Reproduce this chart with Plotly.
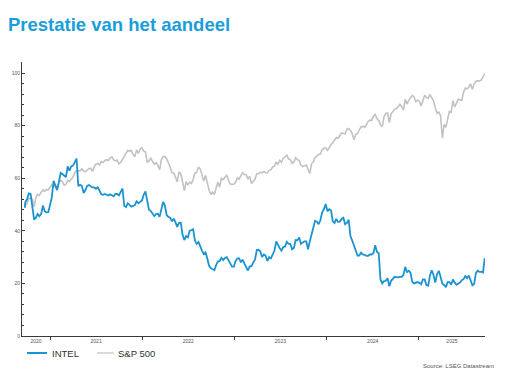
import pandas as pd
import plotly.graph_objects as go

# Weekly values (Intel in USD, S&P 500 rebased to Intel's start)
intel = [
    # 2020 (from late September)
    48.8, 50.9, 52.0, 54.2, 54.0, 48.6, 44.3, 45.0, 46.4, 45.5, 46.4, 49.6, 47.4, 47.0, 47.1, 49.8,
    # 2021
    52.7, 59.0, 57.5, 55.5, 58.5, 62.0, 61.6, 60.8, 60.4, 64.5, 62.9, 64.5, 64.8, 66.0, 67.5, 57.0,
    57.5, 57.1, 54.4, 55.5, 57.1, 57.4, 56.8, 56.5, 56.5, 56.0, 56.6, 55.3, 53.9, 53.7, 54.0, 53.7,
    53.4, 53.9, 53.4, 53.1, 54.0, 54.0, 53.5, 54.9, 56.1, 49.5, 49.0, 50.5, 49.8, 49.2, 49.5, 49.8,
    51.2, 50.5, 51.0, 51.5,
    # 2022
    53.7, 55.0, 51.5, 48.0, 47.5, 46.5, 45.6, 46.4, 46.5, 45.3, 48.5, 51.0, 49.6, 46.0, 45.3, 45.0,
    43.6, 44.6, 43.2, 41.5, 43.0, 43.1, 38.5, 36.5, 38.0, 37.5, 40.0, 40.2, 40.6, 36.3, 35.0, 35.8,
    34.0, 32.5, 31.2, 31.8, 29.5, 26.7, 25.8, 25.5, 25.0, 27.0, 28.4, 28.5, 29.7, 28.9, 29.7, 30.0,
    28.7, 27.7, 26.4, 26.4,
    # 2023
    28.5, 29.5, 29.5, 28.0, 29.0, 27.5, 26.0, 24.9, 26.5, 26.5, 28.0, 29.0, 32.7, 32.8, 32.2, 30.0,
    31.0, 30.5, 28.5, 30.0, 29.5, 31.0, 32.5, 36.0, 34.5, 33.4, 32.5, 33.8, 34.0, 35.8, 35.0, 35.0,
    33.0, 33.5, 36.5, 36.4, 37.5, 35.0, 35.6, 36.0, 36.0, 33.0, 36.0, 38.5, 40.5, 43.8, 43.5, 42.5,
    44.0, 47.0, 48.2, 50.2,
    # 2024
    47.4, 48.2, 47.8, 43.6, 43.0, 44.5, 43.4, 43.5, 44.5, 45.0, 42.5, 43.0, 44.2, 38.0, 36.3, 34.2,
    31.9, 30.6, 30.6, 31.7, 31.0, 30.9, 30.5, 30.5, 31.0, 31.0, 31.5, 34.5, 32.0, 31.5, 21.5, 20.0,
    20.9, 21.0, 22.0, 18.9, 21.0, 21.8, 22.5, 22.4, 22.3, 22.5, 22.5, 23.2, 26.3, 24.3, 24.8, 24.0,
    20.6, 20.0, 20.3, 20.5,
    # 2025 (to mid-September)
    20.2, 19.7, 21.5, 21.5, 19.4, 19.1, 23.0, 25.0, 23.2, 20.3, 23.5, 24.8, 22.5, 19.9, 19.4, 18.6,
    20.5, 20.5, 19.5, 21.5, 20.3, 19.5, 20.0, 20.3, 21.2, 21.6, 22.8, 22.0, 23.0, 20.7, 19.3, 19.8,
    23.9, 24.8, 24.4, 24.5, 24.1, 29.6,
]

sp500 = [
    # 2020
    48.7, 49.6, 50.3, 52.3, 52.4, 52.1, 49.1, 52.7, 53.9, 53.5, 54.7, 55.6, 55.0, 55.7, 55.6, 56.4,
    # 2021
    57.5, 56.6, 57.7, 55.8, 58.4, 59.1, 58.7, 57.3, 57.7, 59.2, 58.8, 59.7, 60.4, 62.0, 62.9, 62.8,
    62.8, 63.6, 62.7, 62.4, 63.2, 63.6, 63.8, 62.6, 64.3, 65.4, 65.6, 65.0, 66.3, 66.0, 66.7, 67.1,
    66.7, 67.7, 68.1, 67.0, 66.6, 66.9, 65.5, 66.0, 67.2, 68.3, 69.2, 70.6, 70.3, 70.6, 69.0, 68.2,
    70.8, 69.4, 71.0, 71.6,
    # 2022
    70.3, 70.0, 66.1, 66.6, 67.6, 66.4, 65.3, 65.9, 65.0, 63.2, 67.0, 68.2, 68.3, 67.4, 66.0, 64.2,
    62.1, 61.9, 60.4, 58.6, 62.4, 61.7, 58.6, 55.2, 58.7, 57.4, 58.5, 58.0, 59.5, 62.0, 62.2, 64.3,
    63.5, 60.9, 58.9, 61.1, 58.2, 55.5, 53.8, 54.7, 53.8, 56.3, 58.6, 56.6, 60.0, 59.5, 60.5, 61.2,
    59.1, 57.8, 57.7, 57.7,
    # 2023
    58.5, 60.1, 59.7, 61.2, 62.1, 61.4, 61.3, 59.6, 60.8, 58.0, 58.8, 59.6, 61.7, 61.7, 62.2, 62.1,
    62.6, 62.1, 62.0, 63.0, 63.2, 64.3, 64.6, 66.2, 65.3, 66.8, 66.1, 67.7, 68.1, 68.8, 67.3, 67.1,
    65.6, 66.2, 67.8, 67.0, 66.8, 64.9, 64.4, 64.7, 65.0, 63.4, 61.8, 65.5, 66.3, 67.8, 68.5, 69.0,
    69.2, 70.9, 71.4, 71.6,
    # 2024
    70.6, 71.9, 72.7, 73.5, 74.5, 75.5, 75.2, 76.4, 77.2, 77.0, 76.9, 78.6, 78.9, 78.2, 76.9, 74.6,
    76.6, 77.0, 78.4, 79.6, 79.7, 79.3, 80.3, 81.6, 82.1, 82.0, 83.6, 84.3, 82.7, 82.0, 80.3, 79.6,
    83.4, 84.6, 84.8, 81.2, 84.5, 85.6, 86.2, 86.4, 87.3, 88.1, 87.2, 86.0, 90.0, 88.2, 89.6, 90.6,
    91.5, 90.9, 89.1, 89.7,
    # 2025
    89.3, 87.5, 90.1, 91.6, 90.7, 90.5, 91.8, 90.3, 89.4, 86.7, 84.7, 85.1, 83.8, 75.2, 80.5, 79.4,
    83.0, 85.4, 85.0, 89.5, 87.1, 88.8, 90.1, 89.8, 89.6, 92.7, 94.3, 94.0, 94.6, 95.9, 93.7, 95.9,
    96.8, 97.1, 97.0, 97.3, 98.9, 99.8,
]

assert len(intel) == len(sp500)

first_date = pd.Timestamp("2020-09-23")
dates = [first_date] + list(pd.date_range("2020-09-25", periods=len(intel) - 1, freq="W-FRI"))

series_names = ["INTEL", "S&P 500"]
year_labels = ["2020", "2021", "2022", "2023", "2024", "2025"]
year_starts = ["2021-01-01", "2022-01-01", "2023-01-01", "2024-01-01", "2025-01-01"]
y_tick_values = [0, 20, 40, 60, 80, 100]

x_start = pd.Timestamp("2020-09-12")
x_end = pd.Timestamp("2025-09-20")

# label positions: centre of the visible part of each year
bounds = [x_start] + [pd.Timestamp(s) for s in year_starts] + [x_end]
label_pos = [bounds[i] + (bounds[i + 1] - bounds[i]) / 2 for i in range(len(bounds) - 1)]

# The page body adds an 8px offset; figure coordinates are page coordinates minus 8.
OFF = 8
W, H = 516, 368
ML, MT = 22 - OFF, 62 - OFF
PLOT_R, PLOT_B = 485 - OFF, 336 - OFF
MR, MB = W - PLOT_R, H - PLOT_B
PW, PH = W - ML - MR, H - MT - MB


def px(x_page):
    return (x_page - OFF - ML) / PW


def py(y_page):
    return (H - MB - (y_page - OFF)) / PH


INTEL_BLUE = "#1b93d1"
SP_GREY = "#c2c2c2"
AXIS = "#3a3a3a"
TEXT = "#333333"
FONT = "Liberation Sans, Arial, sans-serif"

fig = go.Figure()
fig.add_trace(go.Scatter(x=dates, y=sp500, name=series_names[1], mode="lines",
                         line=dict(color=SP_GREY, width=1.6), showlegend=False))
fig.add_trace(go.Scatter(x=dates, y=intel, name=series_names[0], mode="lines",
                         line=dict(color=INTEL_BLUE, width=1.8), showlegend=False))

# custom legend below the plot (line samples + labels)
legend_y = py(353)
shapes = [
    dict(type="line", xref="paper", yref="paper", x0=px(27), x1=px(47), y0=legend_y, y1=legend_y,
         line=dict(color=INTEL_BLUE, width=2)),
    dict(type="line", xref="paper", yref="paper", x0=px(97), x1=px(114), y0=legend_y, y1=legend_y,
         line=dict(color=SP_GREY, width=1.2)),
]
annotations = [
    dict(text=series_names[0], xref="paper", yref="paper", x=px(50), y=legend_y,
         xanchor="left", yanchor="middle", showarrow=False,
         font=dict(family=FONT, size=9.5, color=TEXT)),
    dict(text=series_names[1], xref="paper", yref="paper", x=px(116), y=legend_y,
         xanchor="left", yanchor="middle", showarrow=False,
         font=dict(family=FONT, size=9.5, color=TEXT)),
    dict(text="Source: LSEG Datastream", xref="paper", yref="paper",
         x=px(496), xanchor="right", y=py(366), yanchor="middle",
         showarrow=False, font=dict(family=FONT, size=6, color="#555555")),
]

fig.update_layout(
    width=W, height=H,
    margin=dict(l=ML, r=MR, t=MT, b=MB, autoexpand=False),
    paper_bgcolor="white", plot_bgcolor="white",
    font=dict(family=FONT, color=TEXT),
    title=dict(text="<b>Prestatie van het aandeel</b>", x=0, xanchor="left",
               y=1 - (25 - OFF) / H, yanchor="middle", yref="container",
               pad=dict(l=0, r=0, t=0, b=0),
               font=dict(family=FONT, size=18.5, color="#1a9ddb")),
    showlegend=False,
    shapes=shapes,
    annotations=annotations,
    xaxis=dict(
        type="date", range=[x_start, x_end], automargin=False,
        showgrid=False, zeroline=False,
        showline=True, linecolor=AXIS, linewidth=1,
        tickmode="array", tickvals=label_pos, ticktext=year_labels,
        ticks="", tickfont=dict(family=FONT, size=5, color="#555555"),
        minor=dict(tickmode="array", tickvals=year_starts, ticks="outside",
                   ticklen=3, tickcolor=AXIS, tickwidth=1, showgrid=False),
    ),
    yaxis=dict(
        range=[0, 104.2], automargin=False, showgrid=False, zeroline=False,
        showline=True, linecolor=AXIS, linewidth=1,
        tickmode="array", tickvals=y_tick_values,
        ticks="inside", ticklen=3, tickcolor=AXIS,
        tickfont=dict(family=FONT, size=5, color="#555555"),
        minor=dict(dtick=4, tick0=0, ticks="inside", ticklen=2, tickcolor=AXIS, showgrid=False),
    ),
)

fig.write_html("out.html")
